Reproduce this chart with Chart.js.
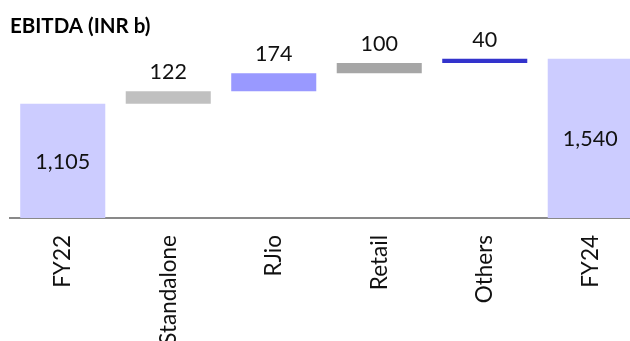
<!DOCTYPE html>
<html>
<head>
<meta charset="utf-8">
<script src="https://cdn.jsdelivr.net/npm/chart.js@4.4.1/dist/chart.umd.min.js"></script>
<style>
  body { margin: 0; overflow: hidden; background: #fff; }
  #wrap { width: 645px; height: 341px; }
</style>
</head>
<body>
<div id="wrap"><canvas id="ebitdaChart" width="645" height="341"></canvas></div>
<script>
// Chart data
const categories = ['FY22', 'Standalone', 'RJio', 'Retail', 'Others', 'FY24'];
const values = [1105, 122, 174, 100, 40, 1540];
const totalFlags = [true, false, false, false, false, true];
const barColors = ['#CCCCFF', '#C0C0C0', '#9999FF', '#A6A6A6', '#3333CC', '#CCCCFF'];

// Build floating ranges for the waterfall
function buildRanges() {
    const ranges = [];
    let running = 0;
    for (let i = 0; i < values.length; i++) {
        if (totalFlags[i]) {
            ranges.push([0, values[i]]);
            running = values[i];
        } else {
            ranges.push([running, running + values[i]]);
            running += values[i];
        }
    }
    return ranges;
}

// Value labels: inside totals, above the steps
const valueLabels = {
    id: 'valueLabels',
    afterDatasetsDraw(chart) {
        const ctx = chart.ctx;
        const meta = chart.getDatasetMeta(0);
        ctx.save();
        ctx.font = '21.5px Lato';
        ctx.fillStyle = '#111';
        ctx.textAlign = 'center';
        ctx.textBaseline = 'middle';
        meta.data.forEach((bar, i) => {
            const top = Math.min(bar.y, bar.base);
            const bottom = Math.max(bar.y, bar.base);
            const text = values[i].toLocaleString('en-US');
            if (totalFlags[i]) {
                ctx.fillText(text, bar.x, (top + bottom) / 2 + 1);
            } else {
                ctx.fillText(text, bar.x, top - 19);
            }
        });
        ctx.restore();
    }
};

const ctx = document.getElementById('ebitdaChart').getContext('2d');
const chart = new Chart(ctx, {
    type: 'bar',
    data: {
        labels: categories,
        datasets: [{
            data: buildRanges(),
            backgroundColor: barColors,
            borderWidth: 0,
            barPercentage: 0.806,
            categoryPercentage: 1.0
        }]
    },
    options: {
        responsive: false,
        animation: false,
        layout: { padding: { left: 10, right: 2, top: 0, bottom: 0 } },
        plugins: {
            legend: { display: false },
            tooltip: { enabled: false },
            title: {
                display: true,
                text: 'EBITDA (INR b)',
                align: 'start',
                color: '#000',
                font: { family: 'Lato', size: 20.5, weight: 'bold', lineHeight: 1.2 },
                padding: { top: 14, bottom: 0 }
            }
        },
        scales: {
            x: {
                z: 1,
                grid: { display: false },
                border: { display: true, color: '#898989', width: 2 },
                ticks: {
                    color: '#111',
                    font: { family: 'Lato', size: 22.5 },
                    maxRotation: 90,
                    minRotation: 90,
                    autoSkip: false,
                    padding: 9
                },
                afterFit(scale) {
                    scale.height = 123;
                }
            },
            y: {
                display: false,
                min: 0,
                max: 1736
            }
        }
    },
    plugins: [valueLabels]
});
</script>
</body>
</html>
